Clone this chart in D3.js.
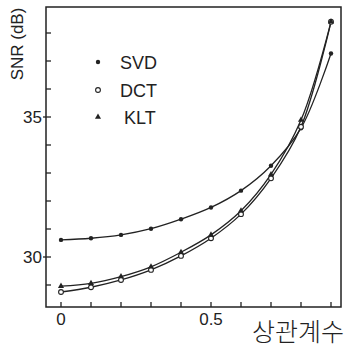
<!DOCTYPE html>
<html>
<head>
<meta charset="utf-8">
<script src="https://cdn.jsdelivr.net/npm/d3@7"></script>
<style>
  body { margin: 0; background: #fff; }
  svg { display: block; }
  text { font-family: "Liberation Sans", Arial, sans-serif; fill: #222; }
</style>
</head>
<body>
<svg id="chart" width="346" height="347"></svg>
<script>
const width = 346;
const height = 347;

// correlation coefficient values on the x axis
const rho = [0, 0.1, 0.2, 0.3, 0.4, 0.5, 0.6, 0.7, 0.8, 0.9];

// SNR (dB) for each transform
const svd = [30.61, 30.67, 30.79, 31.01, 31.35, 31.77, 32.37, 33.26, 34.60, 37.27];
const dct = [28.75, 28.92, 29.18, 29.54, 30.04, 30.67, 31.53, 32.81, 34.65, 38.40];
const klt = [28.96, 29.06, 29.30, 29.65, 30.17, 30.79, 31.65, 32.95, 34.89, 38.40];

const xTickLabels = ["0", "0.5"];
const yTickLabels = ["30", "35"];

const svg = d3.select("#chart");

// frame
const frameL = 46, frameR = 341, frameT = 7, frameB = 307;

const x = d3.scaleLinear().domain([0, 0.9]).range([61, 331]);
const y = d3.scaleLinear().domain([30, 35]).range([257, 117]);

svg.append("rect")
    .attr("x", frameL).attr("y", frameT)
    .attr("width", frameR - frameL).attr("height", frameB - frameT)
    .attr("fill", "none")
    .attr("stroke", "#222")
    .attr("stroke-width", 1.5);

// y ticks (minor every 1 dB, inside the frame)
const yTicks = d3.range(29, 39);
svg.append("g").selectAll("line")
    .data(yTicks)
    .enter()
    .append("line")
        .attr("x1", function(d){ return d % 5 === 0 ? frameL - 3 : frameL; })
        .attr("x2", frameL + 5)
        .attr("y1", function(d){ return y(d); })
        .attr("y2", function(d){ return y(d); })
        .attr("stroke", "#222")
        .attr("stroke-width", 1.3);

svg.append("g").selectAll("text")
    .data(yTickLabels)
    .enter()
    .append("text")
        .attr("x", 42)
        .attr("y", function(d){ return y(+d) + 6; })
        .attr("text-anchor", "end")
        .attr("font-size", 17)
        .text(function(d){ return d; });

// x ticks (every 0.1, inside the frame)
svg.append("g").selectAll("line")
    .data(rho)
    .enter()
    .append("line")
        .attr("x1", function(d){ return x(d); })
        .attr("x2", function(d){ return x(d); })
        .attr("y1", frameB)
        .attr("y2", frameB - 5)
        .attr("stroke", "#222")
        .attr("stroke-width", 1.3);

svg.append("g").selectAll("text")
    .data(xTickLabels)
    .enter()
    .append("text")
        .attr("x", function(d){ return x(+d); })
        .attr("y", 325)
        .attr("text-anchor", "middle")
        .attr("font-size", 17)
        .text(function(d){ return d; });

// axis titles
svg.append("text")
    .attr("transform", "translate(23, 44) rotate(-90)")
    .attr("text-anchor", "middle")
    .attr("font-size", 17)
    .text("SNR (dB)");

svg.append("text")
    .attr("x", 344)
    .attr("y", 341)
    .attr("text-anchor", "end")
    .attr("font-size", 25)
    .style("font-family", "'Noto Sans CJK KR', sans-serif")
    .style("font-weight", 300)
    .text("상관계수");

// curves
const line = d3.line()
    .x(function(d, i){ return x(rho[i]); })
    .y(function(d){ return y(d); })
    .curve(d3.curveCatmullRom);

[svd, dct, klt].forEach(function(s){
    svg.append("path")
        .attr("d", line(s))
        .attr("fill", "none")
        .attr("stroke", "#222")
        .attr("stroke-width", 1.3);
});

// markers
const tri = d3.symbol().type(d3.symbolTriangle).size(16);

svg.append("g").selectAll("circle")
    .data(svd)
    .enter()
    .append("circle")
        .attr("cx", function(d, i){ return x(rho[i]); })
        .attr("cy", function(d){ return y(d); })
        .attr("r", 2.2)
        .attr("fill", "#222");

svg.append("g").selectAll("circle")
    .data(dct)
    .enter()
    .append("circle")
        .attr("cx", function(d, i){ return x(rho[i]); })
        .attr("cy", function(d){ return y(d); })
        .attr("r", 2.4)
        .attr("fill", "#fff")
        .attr("stroke", "#222")
        .attr("stroke-width", 1.1);

svg.append("g").selectAll("path")
    .data(klt)
    .enter()
    .append("path")
        .attr("d", tri)
        .attr("transform", function(d, i){ return `translate(${x(rho[i])}, ${y(d)})`; })
        .attr("fill", "#222");

// legend
const legend = [
    {name: "SVD", yPos: 62, tx: 120},
    {name: "DCT", yPos: 90, tx: 120},
    {name: "KLT", yPos: 117, tx: 124}
];

svg.append("circle").attr("cx", 98).attr("cy", 62).attr("r", 2.2).attr("fill", "#222");
svg.append("circle").attr("cx", 98).attr("cy", 90).attr("r", 2.4)
    .attr("fill", "#fff").attr("stroke", "#222").attr("stroke-width", 1.1);
svg.append("path").attr("d", tri).attr("transform", "translate(98, 117)").attr("fill", "#222");

svg.append("g").selectAll("text")
    .data(legend)
    .enter()
    .append("text")
        .attr("x", function(d){ return d.tx; })
        .attr("y", function(d){ return d.yPos + 6.5; })
        .attr("font-size", 18)
        .text(function(d){ return d.name; });
</script>
</body>
</html>
